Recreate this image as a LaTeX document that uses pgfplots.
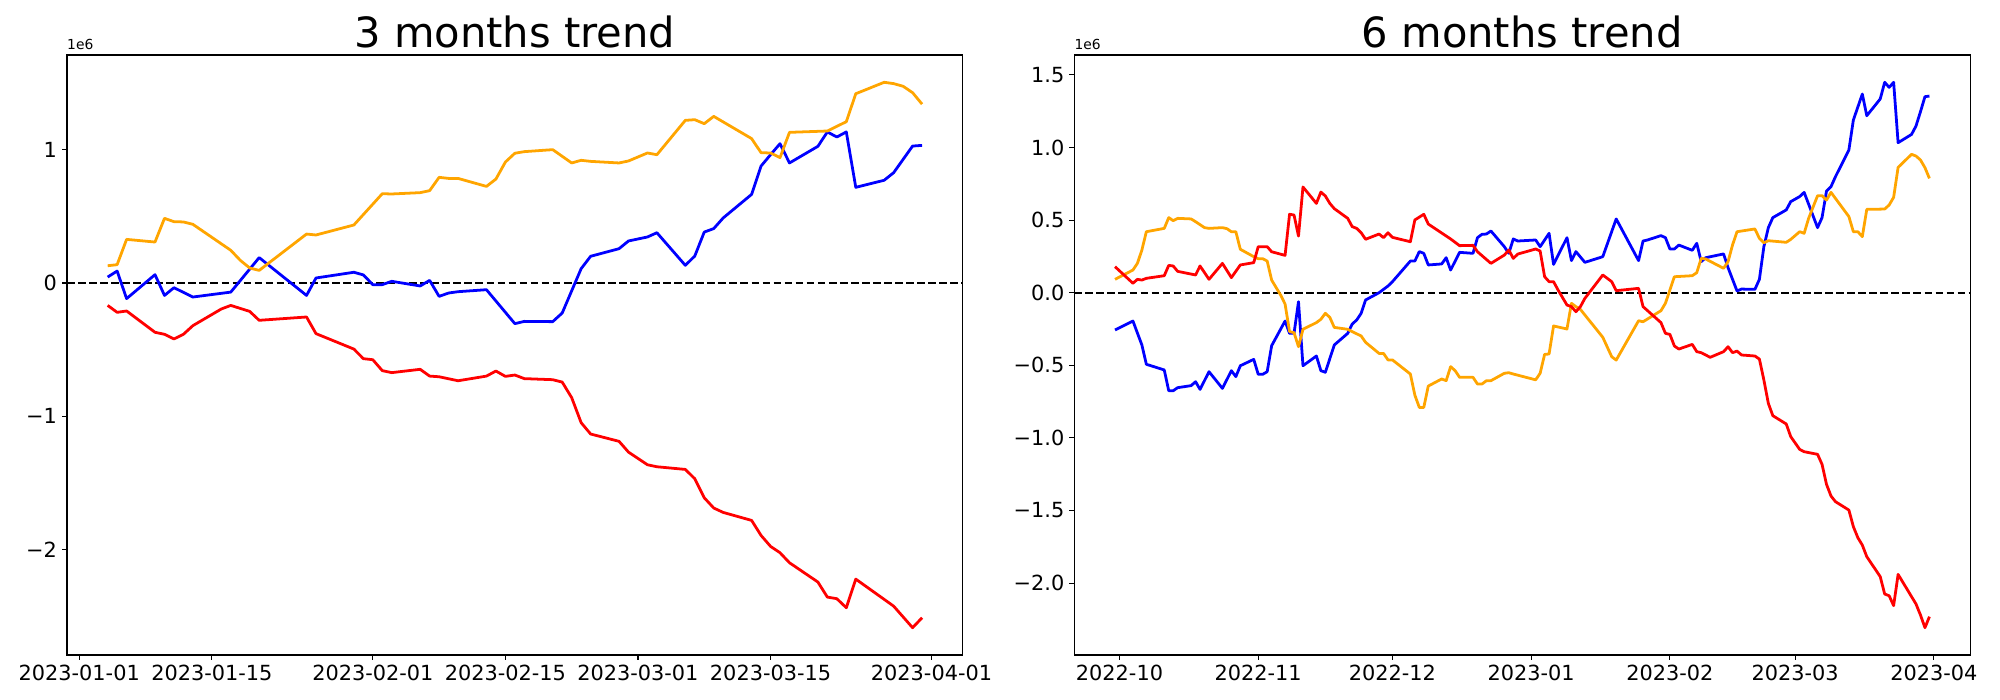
\documentclass[border=0pt]{standalone}
\usepackage{fontspec}
\setmainfont{DejaVu Sans}
\usepackage{pgfplots}
\pgfplotsset{compat=1.18}
\definecolor{mplorange}{RGB}{255,165,0}
\pgfplotsset{
  trend/.style={
    scale only axis,
    width=645bp, height=432bp,
    axis line style={black, line width=0.8bp},
    tick style={black, line width=0.8bp},
    tick align=outside,
    major tick length=3.5bp,
    tick pos=left,
    minor tick num=0,
    /pgf/number format/assume math mode=true,
    ticklabel style={font=\fontsize{15.06}{18}\selectfont, inner sep=0pt},
    xticklabel style={anchor=north, yshift=-3.5bp},
    yticklabel style={anchor=east, xshift=-3.5bp},
    title style={font=\fontsize{30.1}{36}\selectfont, at={(0.5,1)}, anchor=base, yshift=-0.7bp, inner sep=0pt},
    clip mode=individual,
    every axis plot/.append style={line width=2bp, line join=round, mark=none},
  },
  zero/.style={black, line width=1.5bp, dash pattern=on 5.55bp off 2.4bp},
}
\begin{document}
\begin{tikzpicture}
\useasboundingbox (0,0) rectangle (1440bp,504bp);
% ---------------- left: 3 months ----------------
\begin{axis}[trend, at={(48.2bp,32.4bp)}, anchor=south west,
  title={3 months trend},
  xmin=-1.3, xmax=93.3, ymin=-2.794, ymax=1.713,
  xtick={0,14,31,45,59,73,90},
  xticklabels={2023-01-01,2023-01-15,2023-02-01,2023-02-15,2023-03-01,2023-03-15,2023-04-01},
  ytick={-2,-1,0,1},
  yticklabels={−2,−1,0,1},
]
\addplot[zero] coordinates {(-1.3,0) (93.3,0)};
\addplot[color=blue] table {
3 0.045
4 0.090
5 -0.117
8 0.063
9 -0.093
10 -0.035
12 -0.105
16 -0.068
19 0.191
24 -0.093
25 0.038
29 0.081
30 0.061
31 -0.012
32 -0.012
33 0.013
36 -0.022
37 0.020
38 -0.100
39 -0.075
40 -0.065
43 -0.050
46 -0.305
47 -0.288
50 -0.290
51 -0.225
53 0.108
54 0.201
57 0.258
58 0.316
60 0.346
61 0.378
64 0.133
65 0.203
66 0.383
67 0.409
68 0.489
71 0.666
72 0.879
73 0.964
74 1.047
75 0.902
78 1.027
79 1.135
80 1.097
81 1.135
82 0.719
85 0.772
86 0.829
87 0.929
88 1.029
89 1.034
};
\addplot[color=mplorange] table {
3 0.130
4 0.138
5 0.328
8 0.308
9 0.486
10 0.461
11 0.459
12 0.441
16 0.246
17 0.171
18 0.113
19 0.095
24 0.368
25 0.361
29 0.436
32 0.671
33 0.669
36 0.679
37 0.694
38 0.794
39 0.786
40 0.786
43 0.726
44 0.781
45 0.909
46 0.975
47 0.987
50 1.002
52 0.902
53 0.922
54 0.914
57 0.902
58 0.917
60 0.977
61 0.964
64 1.222
65 1.227
66 1.197
67 1.252
71 1.085
72 0.979
73 0.977
74 0.942
75 1.132
79 1.142
80 1.177
81 1.212
82 1.422
85 1.508
86 1.498
87 1.478
88 1.430
89 1.344
};
\addplot[color=red] table {
3 -0.168
4 -0.220
5 -0.210
8 -0.370
9 -0.385
10 -0.420
11 -0.385
12 -0.320
15 -0.195
16 -0.168
18 -0.213
19 -0.280
24 -0.255
25 -0.380
29 -0.496
30 -0.568
31 -0.576
32 -0.658
33 -0.673
36 -0.648
37 -0.699
38 -0.704
40 -0.734
43 -0.699
44 -0.661
45 -0.701
46 -0.691
47 -0.718
50 -0.726
51 -0.744
52 -0.861
53 -1.049
54 -1.134
57 -1.189
58 -1.270
60 -1.365
61 -1.380
64 -1.400
65 -1.470
66 -1.613
67 -1.690
68 -1.723
71 -1.783
72 -1.896
73 -1.978
74 -2.026
75 -2.101
78 -2.246
79 -2.359
80 -2.371
81 -2.439
82 -2.224
86 -2.427
88 -2.589
89 -2.514
};
\node[anchor=base west, inner sep=0pt, font=\fontsize{10}{12}\selectfont] at (rel axis cs:0,1) [yshift=4bp] {1e6};
\end{axis}
% ---------------- right: 6 months ----------------
\begin{axis}[trend, at={(773.5bp,32.4bp)}, anchor=south west,
  title={6 months trend},
  xmin=-102.1, xmax=98.1, ymin=-2.495, ymax=1.637,
  xtick={-92,-61,-31,0,31,59,90},
  xticklabels={2022-10,2022-11,2022-12,2023-01,2023-02,2023-03,2023-04},
  ytick={-2,-1.5,-1,-0.5,0,0.5,1,1.5},
  yticklabels={−2.0,−1.5,−1.0,−0.5,0.0,0.5,1.0,1.5},
]
\addplot[zero] coordinates {(-102.1,0) (98.1,0)};
\addplot[color=blue] table {
-93 -0.257
-89 -0.195
-87 -0.360
-86 -0.493
-82 -0.532
-81 -0.675
-80 -0.675
-79 -0.654
-76 -0.640
-75 -0.613
-74 -0.666
-72 -0.544
-69 -0.659
-67 -0.537
-66 -0.578
-65 -0.503
-62 -0.459
-61 -0.562
-60 -0.562
-59 -0.544
-58 -0.365
-55 -0.195
-54 -0.280
-53 -0.280
-52 -0.062
-51 -0.503
-48 -0.436
-47 -0.537
-46 -0.548
-44 -0.360
-41 -0.280
-40 -0.216
-39 -0.188
-38 -0.142
-37 -0.050
-34 0.000
-32 0.046
-31 0.076
-27 0.218
-26 0.218
-25 0.283
-24 0.271
-23 0.191
-20 0.198
-19 0.241
-18 0.156
-16 0.278
-13 0.271
-12 0.379
-11 0.402
-10 0.404
-9 0.425
-6 0.317
-5 0.271
-4 0.370
-3 0.356
1 0.363
2 0.317
4 0.409
5 0.195
8 0.379
9 0.221
10 0.283
12 0.209
16 0.248
19 0.508
24 0.221
25 0.356
26 0.363
29 0.393
30 0.379
31 0.301
32 0.301
33 0.328
36 0.292
37 0.340
38 0.214
39 0.241
43 0.267
44 0.172
46 0.012
47 0.025
50 0.023
51 0.092
52 0.317
53 0.448
54 0.517
57 0.570
58 0.627
60 0.662
61 0.691
64 0.448
65 0.517
66 0.700
67 0.730
68 0.799
71 0.983
72 1.189
74 1.368
75 1.219
78 1.334
79 1.449
80 1.414
81 1.449
82 1.033
85 1.090
86 1.148
87 1.247
88 1.350
89 1.354
};
\addplot[color=mplorange] table {
-93 0.092
-89 0.156
-88 0.202
-87 0.294
-86 0.420
-82 0.443
-81 0.517
-80 0.496
-79 0.512
-76 0.508
-75 0.489
-73 0.448
-72 0.443
-69 0.448
-68 0.441
-67 0.420
-66 0.420
-65 0.299
-62 0.248
-61 0.234
-60 0.234
-59 0.218
-58 0.087
-56 -0.016
-55 -0.078
-54 -0.268
-53 -0.275
-52 -0.372
-51 -0.252
-48 -0.206
-47 -0.183
-46 -0.142
-45 -0.170
-44 -0.239
-41 -0.252
-40 -0.268
-38 -0.298
-37 -0.342
-34 -0.418
-33 -0.418
-32 -0.463
-31 -0.463
-27 -0.560
-26 -0.705
-25 -0.790
-24 -0.790
-23 -0.643
-20 -0.594
-19 -0.606
-18 -0.509
-17 -0.537
-16 -0.583
-13 -0.583
-12 -0.629
-11 -0.629
-10 -0.606
-9 -0.606
-6 -0.555
-5 -0.551
-4 -0.560
1 -0.600
2 -0.555
3 -0.425
4 -0.422
5 -0.229
8 -0.250
9 -0.073
10 -0.096
11 -0.115
16 -0.307
18 -0.441
19 -0.464
24 -0.193
25 -0.200
29 -0.124
30 -0.073
32 0.110
36 0.117
37 0.138
38 0.237
39 0.232
43 0.168
44 0.214
45 0.329
46 0.420
50 0.439
51 0.374
52 0.344
53 0.358
57 0.347
58 0.367
60 0.420
61 0.409
62 0.512
64 0.668
65 0.668
66 0.638
67 0.691
71 0.524
72 0.420
73 0.420
74 0.386
75 0.574
79 0.576
80 0.604
81 0.657
82 0.863
85 0.953
86 0.941
87 0.914
88 0.861
89 0.787
};
\addplot[color=red] table {
-93 0.179
-89 0.065
-88 0.092
-87 0.087
-86 0.099
-82 0.117
-81 0.188
-80 0.184
-79 0.147
-75 0.122
-74 0.184
-72 0.092
-69 0.202
-67 0.104
-65 0.191
-62 0.207
-61 0.317
-59 0.317
-58 0.282
-55 0.257
-54 0.540
-53 0.535
-52 0.390
-51 0.728
-48 0.615
-47 0.693
-46 0.666
-45 0.615
-44 0.579
-41 0.512
-40 0.455
-39 0.443
-38 0.413
-37 0.368
-34 0.404
-33 0.379
-32 0.413
-31 0.381
-27 0.351
-26 0.501
-24 0.540
-23 0.473
-18 0.370
-16 0.324
-13 0.326
-12 0.282
-9 0.202
-6 0.259
-5 0.294
-4 0.236
-3 0.266
1 0.301
2 0.287
3 0.110
4 0.076
5 0.076
6 0.019
8 -0.085
9 -0.096
10 -0.131
11 -0.096
12 -0.039
16 0.122
18 0.076
19 0.014
24 0.030
25 -0.096
29 -0.206
30 -0.280
31 -0.287
32 -0.367
33 -0.388
36 -0.356
37 -0.406
38 -0.413
40 -0.445
43 -0.406
44 -0.372
45 -0.413
46 -0.402
47 -0.429
50 -0.436
51 -0.457
52 -0.601
53 -0.762
54 -0.847
57 -0.904
58 -0.991
60 -1.079
61 -1.095
64 -1.113
65 -1.182
66 -1.320
67 -1.400
68 -1.439
71 -1.497
72 -1.611
73 -1.687
74 -1.738
75 -1.818
78 -1.955
79 -2.075
80 -2.087
81 -2.155
82 -1.940
86 -2.144
87 -2.220
88 -2.307
89 -2.231
};
\node[anchor=base west, inner sep=0pt, font=\fontsize{10}{12}\selectfont] at (rel axis cs:0,1) [yshift=4bp] {1e6};
\end{axis}
\end{tikzpicture}
\end{document}
